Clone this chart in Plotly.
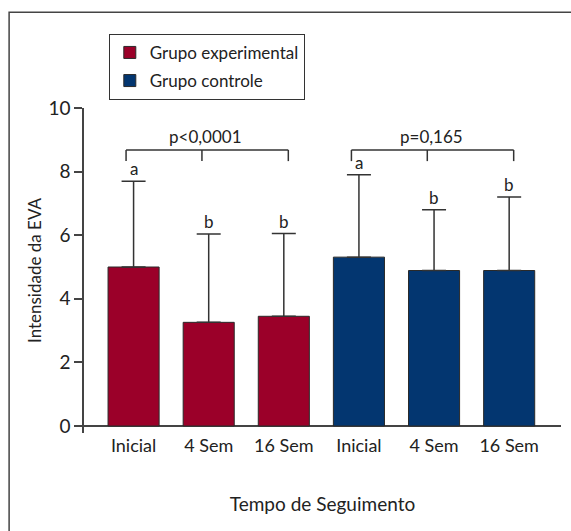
import plotly.graph_objects as go

# ---- data ----
tick_labels = ["Inicial", "4 Sem", "16 Sem", "Inicial", "4 Sem", "16 Sem"]
exp_pos = [0, 1, 2]
ctrl_pos = [3, 4, 5]
exp_mean = [5.0, 3.26, 3.45]
exp_top = [7.7, 6.04, 6.05]
ctrl_mean = [5.31, 4.89, 4.89]
ctrl_top = [7.9, 6.8, 7.2]
exp_letters = ["a", "b", "b"]
ctrl_letters = ["a", "b", "b"]
p_texts = ["p<0,0001", "p=0,165"]
bracket_y = 8.68
bracket_drop = 0.35

RED = "#9b0029"
BLUE = "#033670"
FONT = "Lato"
TXT = "#222222"

exp_err = [t - m for t, m in zip(exp_top, exp_mean)]
ctrl_err = [t - m for t, m in zip(ctrl_top, ctrl_mean)]

fig = go.Figure()
for name, pos, mean, err, col, grp in [
    ("Grupo experimental", exp_pos, exp_mean, exp_err, RED, "g1"),
    ("Grupo controle", ctrl_pos, ctrl_mean, ctrl_err, BLUE, "g2"),
]:
    fig.add_trace(go.Bar(
        x=pos, y=mean, name=name, legendgroup=grp,
        marker=dict(color=col, line=dict(color="#2a2a2a", width=1)),
        width=0.68,
        error_y=dict(type="data", array=err, arrayminus=[0] * len(err),
                     symmetric=False, color="#333333", thickness=1.5, width=12),
    ))

shapes = []
annotations = []
# letters above error caps
for pos, top, letters in [(exp_pos, exp_top, exp_letters), (ctrl_pos, ctrl_top, ctrl_letters)]:
    for p, t, l in zip(pos, top, letters):
        annotations.append(dict(x=p, y=t, xref="x", yref="y", text=l, showarrow=False,
                                yanchor="bottom", yshift=0,
                                font=dict(family=FONT, size=17, color=TXT)))
# brackets
for pos, ptxt in [(exp_pos, p_texts[0]), (ctrl_pos, p_texts[1])]:
    xl, xm, xr = pos[0] - 0.1, pos[1] - 0.09, pos[2] + 0.06
    line = dict(color="#333333", width=1.5)
    shapes.append(dict(type="line", xref="x", yref="y", x0=xl, x1=xr, y0=bracket_y, y1=bracket_y, line=line))
    for xx in (xl, xm, xr):
        shapes.append(dict(type="line", xref="x", yref="y", x0=xx, x1=xx,
                           y0=bracket_y, y1=bracket_y - bracket_drop, line=line))
    annotations.append(dict(x=xm + 0.05, y=bracket_y, xref="x", yref="y", text=ptxt, showarrow=False,
                            yanchor="bottom", yshift=1,
                            font=dict(family=FONT, size=17, color=TXT)))
# outer frame (only left and top visible)
shapes.append(dict(type="rect", xref="paper", yref="paper", x0=-0.157, x1=1.2, y0=-0.6, y1=1.295,
                   line=dict(color="#444444", width=1.5), layer="below"))

fig.update_layout(
    width=571, height=531,
    margin=dict(l=84, r=10, t=108, b=98),
    paper_bgcolor="white", plot_bgcolor="white",
    font=dict(family=FONT, size=18, color=TXT),
    bargap=0.32,
    showlegend=True,
    legend=dict(x=0.052, y=1.228, xanchor="left", yanchor="top",
                bordercolor="#333333", borderwidth=1, bgcolor="white",
                font=dict(family=FONT, size=17, color=TXT),
                tracegroupgap=3, traceorder="grouped"),
    shapes=shapes,
    annotations=annotations,
    xaxis=dict(range=[-0.66, 5.69], tickmode="array", tickvals=exp_pos + ctrl_pos,
               ticktext=tick_labels, showline=False, ticks="", showgrid=False, zeroline=False,
               tickfont=dict(family=FONT, size=18, color=TXT),
               title=dict(text="Tempo de Seguimento", standoff=42,
                          font=dict(family=FONT, size=19, color=TXT))),
    yaxis=dict(range=[-0.22, 10], tickvals=[0, 2, 4, 6, 8, 10], showline=True,
               linecolor="#444444", linewidth=1.5, ticks="outside", ticklen=8,
               tickcolor="#444444", tickwidth=1.5, showgrid=False,
               zeroline=True, zerolinecolor="#444444", zerolinewidth=1.5,
               tickfont=dict(family=FONT, size=19, color=TXT),
               title=dict(text="Intensidade da EVA", standoff=2,
                          font=dict(family=FONT, size=17, color=TXT))),
)

fig.write_html("out.html")
